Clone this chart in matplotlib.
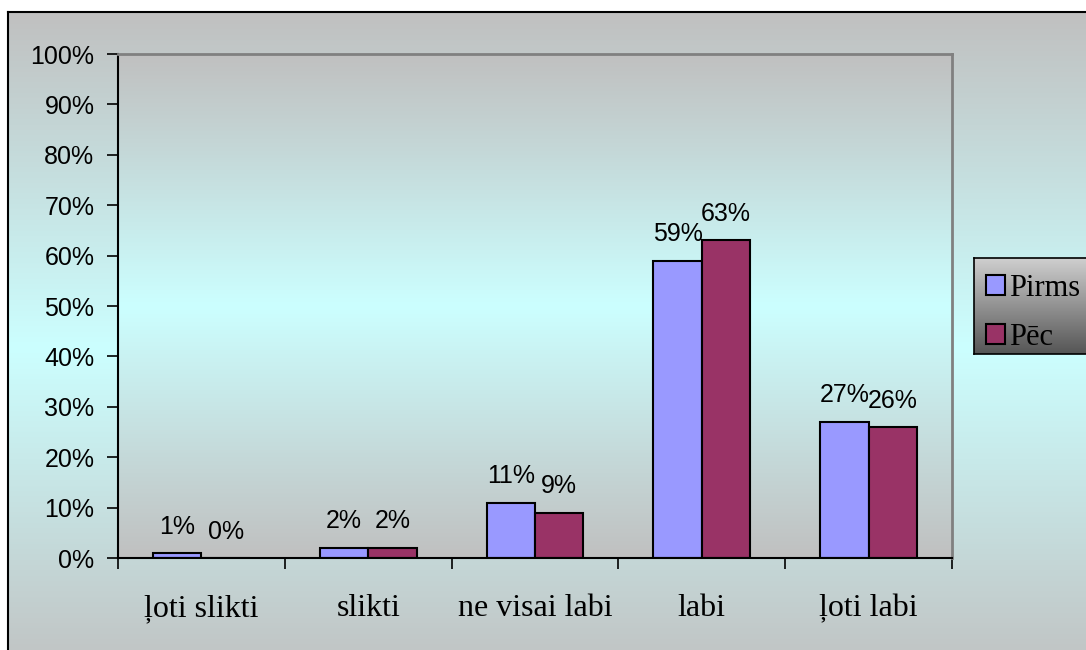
import numpy as np
import matplotlib
matplotlib.use("Agg")
import matplotlib.pyplot as plt
from matplotlib.colors import LinearSegmentedColormap
from matplotlib.patches import Patch
from matplotlib.ticker import FixedLocator, PercentFormatter

# data
categories = ["ļoti slikti", "slikti", "ne visai labi", "labi", "ļoti labi"]
pirms = [1, 2, 11, 59, 27]
pec = [0, 2, 9, 63, 26]
series_names = ["Pirms", "Pēc"]
series_colors = ["#9999FF", "#993366"]

W, H = 1086, 650
fig = plt.figure(figsize=(W / 100, H / 100), dpi=100)
fig.patch.set_facecolor("white")

gray = (192 / 255, 192 / 255, 192 / 255)
cyan = (204 / 255, 1.0, 1.0)
grad_cmap = LinearSegmentedColormap.from_list("g", [gray, cyan, gray])
grad = np.linspace(0, 1, 256).reshape(-1, 1)

# outer chart area with gradient
bg = fig.add_axes([8 / W, -0.05, 1.0, (H - 12) / H + 0.05])
bg.imshow(grad, cmap=grad_cmap, aspect="auto", extent=[0, 1, 0, 1], origin="upper")
bg.set_xticks([])
bg.set_yticks([])
for s in bg.spines.values():
    s.set_color("black")
    s.set_linewidth(1.5)

# plot area
ax = fig.add_axes([118 / W, (H - 558) / H, (952 - 118) / W, (558 - 54) / H])
n = len(categories)
ax.set_xlim(0, n)
ax.set_ylim(0, 100)
ax.imshow(grad, cmap=grad_cmap, aspect="auto", extent=[0, n, 0, 100],
          origin="upper", zorder=0)

x = np.arange(n) + 0.5
bw = 0.29
b1 = ax.bar(x - bw / 2, pirms, bw, color=series_colors[0], edgecolor="black",
            linewidth=1.5, zorder=2)
b2 = ax.bar(x + bw / 2, pec, bw, color=series_colors[1], edgecolor="black",
            linewidth=1.5, zorder=2)

for bars, vals in [(b1, pirms), (b2, pec)]:
    for r, v in zip(bars, vals):
        ax.annotate(f"{v}%", (r.get_x() + r.get_width() / 2, r.get_height()),
                    xytext=(0, 14), textcoords="offset points", ha="center",
                    va="baseline", fontsize=18, family="Liberation Sans")

ax.yaxis.set_major_locator(FixedLocator(np.arange(0, 101, 10)))
ax.yaxis.set_major_formatter(PercentFormatter(decimals=0))
ax.tick_params(axis="y", direction="out", length=8, width=1.2, pad=9,
               labelsize=18)
for lab in ax.get_yticklabels():
    lab.set_family("Liberation Sans")

ax.set_xticks(np.arange(n + 1))
ax.set_xticklabels([])
ax.tick_params(axis="x", which="major", direction="out", length=8, width=1.2)
ax.set_xticks(x, minor=True)
ax.set_xticklabels(categories, minor=True, fontsize=23, family="Liberation Serif")
ax.tick_params(axis="x", which="minor", length=0, pad=26)

ax.spines["left"].set_color("black")
ax.spines["left"].set_linewidth(1.5)
ax.spines["bottom"].set_color("black")
ax.spines["bottom"].set_linewidth(1.5)
ax.spines["top"].set_color("#808080")
ax.spines["top"].set_linewidth(2)
ax.spines["right"].set_color("#808080")
ax.spines["right"].set_linewidth(2)

# legend box with dark gradient
lg = fig.add_axes([974 / W, (H - 354) / H, (1100 - 974) / W, 96 / H])
leg_cmap = LinearSegmentedColormap.from_list("l", ["#CFCFCF", "#555555"])
lg.imshow(grad, cmap=leg_cmap, aspect="auto", extent=[0, 1, 0, 1], origin="upper")
lg.set_xticks([])
lg.set_yticks([])
for s in lg.spines.values():
    s.set_color("black")
    s.set_linewidth(1.2)
handles = [Patch(facecolor=c, edgecolor="black", linewidth=1.5) for c in series_colors]
lg.legend(handles, series_names, loc="center left", frameon=False,
          prop={"family": "Liberation Serif", "size": 22},
          handlelength=0.6, handleheight=0.6, handletextpad=0.15,
          borderaxespad=0, borderpad=0.2, labelspacing=0.65,
          bbox_to_anchor=(0.05, 0.43))

fig.savefig("out.png", dpi=100)
